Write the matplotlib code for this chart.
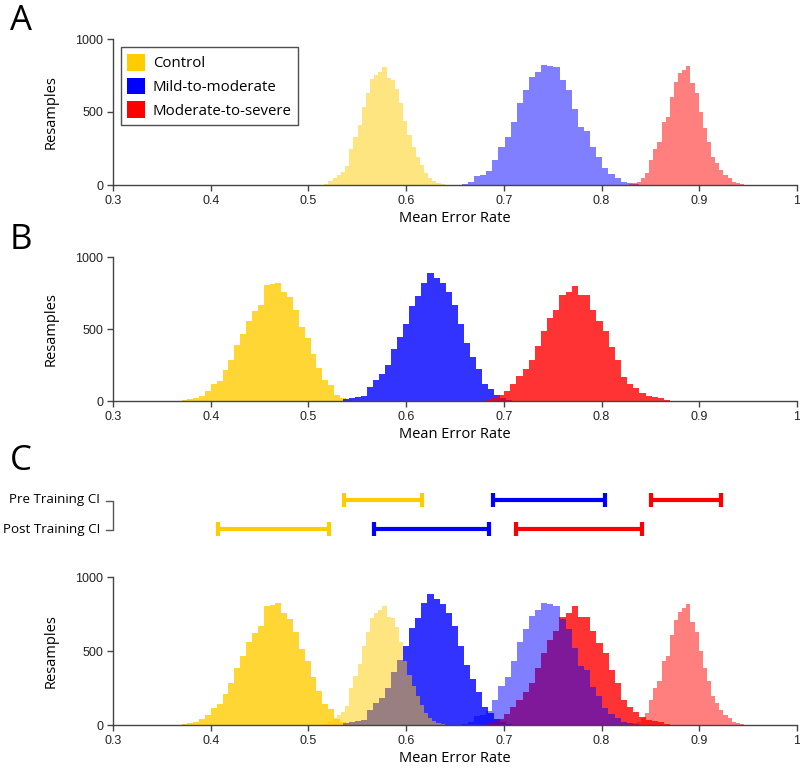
import numpy as np
import matplotlib
matplotlib.use("Agg")
import matplotlib.pyplot as plt
from matplotlib.patches import Patch

# ---------------- data ----------------
groups = ["Control", "Mild-to-moderate", "Moderate-to-severe"]
base_colors = ["#FFCC00", "#0000FF", "#FF0000"]

# Pre-training bootstrap histograms (panel A): first bin edge, bin width, counts
pre_control_start, pre_control_width = 0.512, 0.00425
pre_control = [3, 8, 30, 45, 68, 90, 130, 250, 330, 410, 535, 630, 725, 755, 775,
               805, 730, 720, 660, 560, 435, 340, 262, 195, 137, 80, 45, 30, 16, 7, 3]

pre_mild_start, pre_mild_width = 0.657, 0.00625
pre_mild = [5, 23, 60, 68, 96, 171, 263, 326, 434, 564, 651, 737, 776, 822, 817,
            806, 719, 651, 518, 400, 370, 258, 194, 114, 75, 46, 23, 11, 4]

pre_severe_start, pre_severe_width = 0.8276, 0.00422
pre_severe = [5, 11, 23, 46, 80, 171, 250, 297, 434, 468, 605, 708, 765, 788, 815,
              696, 628, 502, 388, 297, 194, 148, 103, 68, 46, 23, 11, 5]

# Post-training bootstrap histograms (panel B)
post_control_start, post_control_width = 0.3702, 0.0060
post_control = [4, 11, 22, 38, 67, 116, 141, 212, 286, 386, 464, 558, 625, 670, 806,
                810, 821, 759, 719, 629, 513, 435, 324, 230, 145, 110, 41, 18, 6]

post_mild_start, post_mild_width = 0.535, 0.0062
post_mild = [11, 18, 25, 34, 98, 148, 185, 247, 361, 441, 537, 658, 726, 822, 886,
             852, 817, 760, 669, 537, 406, 308, 224, 121, 80, 41, 18, 7]

post_severe_start, post_severe_width = 0.6813, 0.0063
post_severe = [11, 30, 41, 71, 121, 171, 224, 285, 384, 486, 573, 635, 733, 760, 801,
               733, 733, 635, 555, 486, 372, 285, 167, 121, 87, 57, 34, 30, 18, 7, 2]

# Confidence intervals (panel C)
pre_ci_low = [0.536, 0.6886, 0.851]
pre_ci_high = [0.6166, 0.8035, 0.9225]
post_ci_low = [0.407, 0.567, 0.7123]
post_ci_high = [0.521, 0.685, 0.841]

x_ticks = [0.3, 0.4, 0.5, 0.6, 0.7, 0.8, 0.9, 1.0]
x_ticklabels = ["0.3", "0.4", "0.5", "0.6", "0.7", "0.8", "0.9", "1"]
y_ticks = [0, 500, 1000]
y_ticklabels = ["0", "500", "1000"]

pre_hists = [(pre_control_start, pre_control_width, pre_control),
             (pre_mild_start, pre_mild_width, pre_mild),
             (pre_severe_start, pre_severe_width, pre_severe)]
post_hists = [(post_control_start, post_control_width, post_control),
              (post_mild_start, post_mild_width, post_mild),
              (post_severe_start, post_severe_width, post_severe)]

# ---------------- figure ----------------
W, H = 800, 770
fig = plt.figure(figsize=(W / 100, H / 100), dpi=100)

label_font = "Open Sans"
tick_font = "Liberation Sans"
spine_col = "#444444"


def make_axes(top_px, bottom_px):
    left, right = 113, 797
    return fig.add_axes([left / W, 1 - bottom_px / H, (right - left) / W,
                         (bottom_px - top_px) / H])


def style_axes(ax):
    ax.set_xlim(0.3, 1.0)
    ax.set_ylim(0, 1000)
    for s in ["top", "right"]:
        ax.spines[s].set_visible(False)
    for s in ["left", "bottom"]:
        ax.spines[s].set_color(spine_col)
        ax.spines[s].set_linewidth(1.0)
    ax.set_xticks(x_ticks)
    ax.set_xticklabels(x_ticklabels, fontfamily=tick_font, fontsize=9)
    ax.set_yticks(y_ticks)
    ax.set_yticklabels(y_ticklabels, fontfamily=tick_font, fontsize=9)
    ax.tick_params(direction="out", length=4, width=1, color=spine_col,
                   labelcolor="#222222", pad=3)
    ax.set_xlabel("Mean Error Rate", fontfamily=label_font, fontsize=10.5,
                  labelpad=3)
    ax.set_ylabel("Resamples", fontfamily=label_font, fontsize=10.5, labelpad=12)
    ax.set_facecolor("none")


def draw_hist(ax, start, width, counts, color, alpha):
    edges = start + width * np.arange(len(counts) + 1)
    ax.stairs(counts, edges, fill=True, color=color, alpha=alpha,
              linewidth=0, baseline=0)


# Panel A
axA = make_axes(39, 185)
for (st, w, c), col in zip(pre_hists, base_colors):
    draw_hist(axA, st, w, c, col, 0.5)
style_axes(axA)

handles = [Patch(facecolor=c, edgecolor="none") for c in base_colors]
leg = axA.legend(handles, groups, loc="upper left", bbox_to_anchor=(0.011, 0.945),
                 prop={"family": label_font, "size": 10.8}, frameon=True,
                 fancybox=False, edgecolor="#222222", handlelength=1.15,
                 handleheight=1.35, handletextpad=0.55, labelspacing=0.42,
                 borderpad=0.45, borderaxespad=0)
leg.get_frame().set_linewidth(1.0)

# Panel B
axB = make_axes(257, 401)
for (st, w, c), col in zip(post_hists, base_colors):
    draw_hist(axB, st, w, c, col, 0.8)
style_axes(axB)

# Panel C
axC = make_axes(577, 725)
for (st, w, c), col in zip(post_hists, base_colors):
    draw_hist(axC, st, w, c, col, 0.8)
for (st, w, c), col in zip(pre_hists, base_colors):
    draw_hist(axC, st, w, c, col, 0.5)
style_axes(axC)

# CI axes
top_ci, bot_ci = 490, 540
axCI = fig.add_axes([113 / W, 1 - bot_ci / H, 684 / W, (bot_ci - top_ci) / H])
axCI.set_xlim(0.3, 1.0)
px_per_unit = 529 - 500
axCI.set_ylim(-(bot_ci - 529) / px_per_unit, 1 + (500 - top_ci) / px_per_unit)
axCI.axis("off")
for lo_list, hi_list, yrow in [(pre_ci_low, pre_ci_high, 1), (post_ci_low, post_ci_high, 0)]:
    for lo, hi, col in zip(lo_list, hi_list, base_colors):
        mid = (lo + hi) / 2
        axCI.errorbar([mid], [yrow], xerr=[(hi - lo) / 2], fmt="none",
                      ecolor=col, elinewidth=3.0, capsize=5.0, capthick=3.0)

fig.text(100 / W, 1 - 500 / H, "Pre Training CI", ha="right", va="center",
         fontfamily=label_font, fontsize=9.6)
fig.text(100 / W, 1 - 529 / H, "Post Training CI", ha="right", va="center",
         fontfamily=label_font, fontsize=9.6)
fig.add_artist(plt.Line2D([106 / W, 113 / W, 113 / W, 106 / W],
                          [1 - 501 / H, 1 - 501 / H, 1 - 530 / H, 1 - 530 / H],
                          color="#555555", linewidth=1.0))

# Panel letters
for letter, ypx in [("A", 21), ("B", 240), ("C", 461)]:
    fig.text(10 / W, 1 - ypx / H, letter, ha="left", va="center",
             fontfamily=label_font, fontsize=25)

fig.savefig("out.png", dpi=100)
